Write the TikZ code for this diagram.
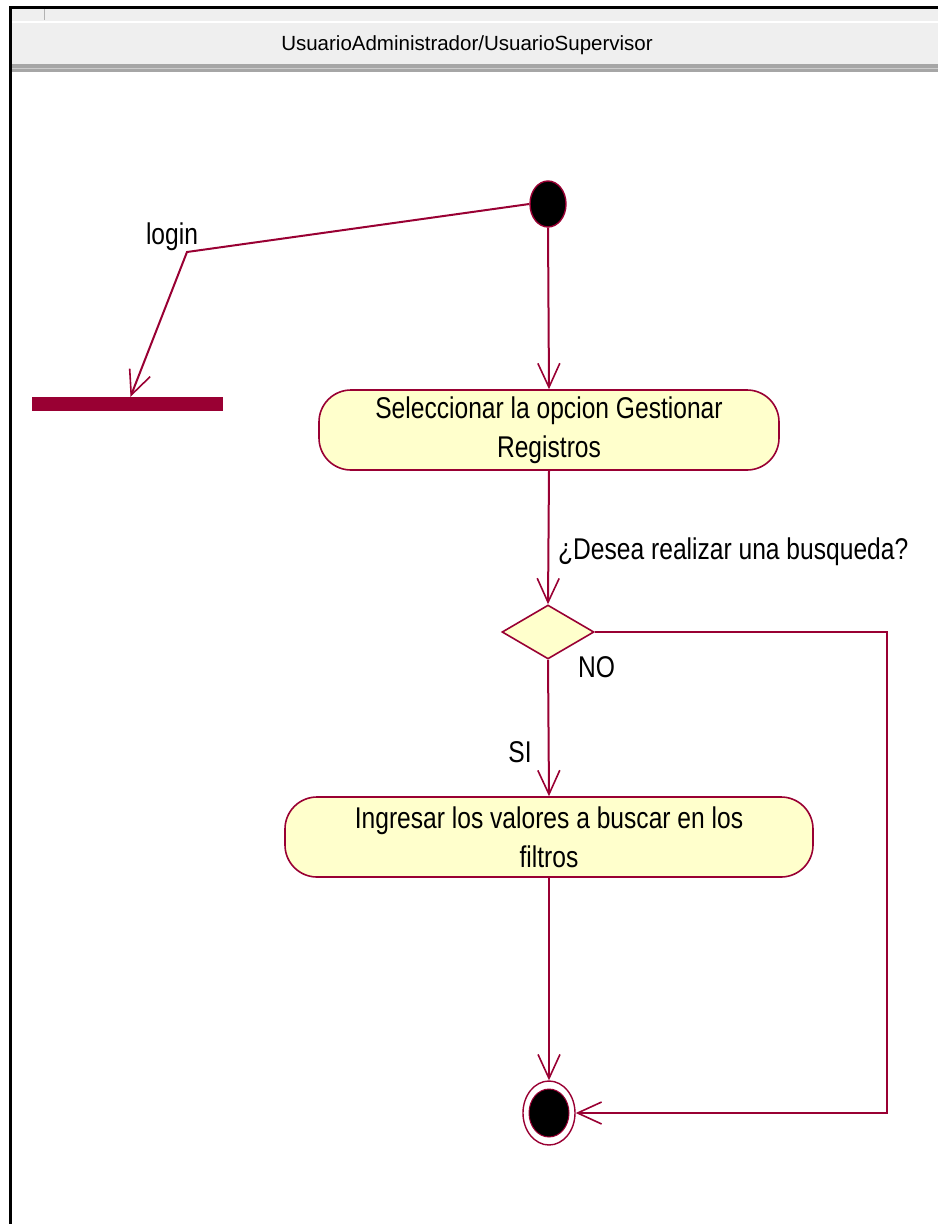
\documentclass[tikz,border=0pt]{standalone}
\usepackage{fontspec}
\setmainfont[FakeStretch=0.82]{Liberation Sans}
\newfontfamily\lanefont{Liberation Sans}
\usetikzlibrary{shapes.geometric,arrows.meta}

\definecolor{rose}{HTML}{990033}
\definecolor{actfill}{HTML}{FFFFCC}
\definecolor{hdrgray}{HTML}{EFEFEF}

\tikzset{
  flow/.style={draw=rose, line width=2pt, -{Straight Barb[length=24pt,width=22pt,line width=1.6pt]}},
  activity/.style={draw=rose, fill=actfill, line width=1.6pt, rounded corners=32pt,
    minimum height=80pt, align=center, font=\fontsize{30}{39}\selectfont},
  decision/.style={diamond, draw=rose, fill=actfill, line width=1.6pt, inner sep=0pt,
    minimum width=92pt, minimum height=54pt},
  label/.style={font=\fontsize{30}{33}\selectfont, inner sep=0pt},
}

\begin{document}
\begin{tikzpicture}[x=1pt, y=-1pt]
        \useasboundingbox (0,0) rectangle (938,1224);
        % swimlane header
        \fill[hdrgray] (10,8) rectangle (938,66);
        \draw[white, line width=1.5pt] (10,22) -- (938,22);
        \draw[gray!60, line width=1pt] (44,8) -- (44,20);
        \fill[gray!70] (10,64) rectangle (938,72);
        \draw[gray!40, line width=1pt] (10,68) -- (938,68);
        \draw[black, line width=3pt] (10,1224) -- (10,7) -- (938,7);
        \node[font=\lanefont\fontsize{20.5}{24}\selectfont] (lane) at (467,45) {UsuarioAdministrador/UsuarioSupervisor};

        % states and activities
        \node[ellipse, draw=rose, fill=black, line width=1.4pt, minimum width=36pt, minimum height=46pt, inner sep=0pt] (start) at (548,204) {};
        \node[fill=rose, minimum width=191pt, minimum height=14pt, inner sep=0pt] (bar) at (127.5,404) {};
        \node[activity, minimum width=460pt] (sel) at (549,430) {Seleccionar la opcion Gestionar\\Registros};
        \node[decision] (ask) at (548,632) {};
        \node[activity, minimum width=528pt] (ing) at (549,837) {Ingresar los valores a buscar en los\\filtros};
        \node[ellipse, draw=rose, line width=1.4pt, minimum width=52pt, minimum height=64pt, inner sep=0pt] (stop) at (549,1113) {};
        \fill[black, draw=rose, line width=1pt] (stop.center) ellipse (20 and 24);

        % transitions
        \coordinate (bend) at (187,252);
        \coordinate (noturn) at (887,632);
        \draw[flow] (start.west) -- (bend) -- ([xshift=3pt]bar.north);
        \node[label] (lbllogin) at (172,237) {login};
        \draw[flow] (start.south) -- (sel.north);
        \draw[flow] (sel.south) -- (ask.north);
        \node[label, anchor=west] (lblask) at (558,552) {¿Desea realizar una busqueda?};
        \draw[flow] (ask.east) -- (noturn) |- (stop.east);
        \node[label, anchor=west] (lblno) at (578,667) {NO};
        \draw[flow] (ask.south) -- (ing.north);
        \node[label] (lblsi) at (520,752) {SI};
        \draw[flow] (ing.south) -- (stop.north);
\end{tikzpicture}
\end{document}
